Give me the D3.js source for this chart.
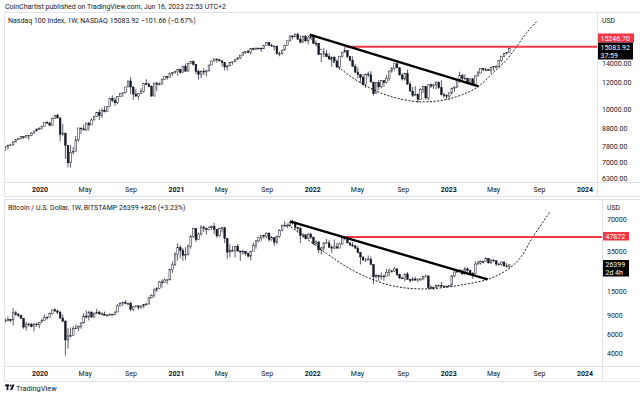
<!DOCTYPE html>
<html><head><meta charset="utf-8">
<script src="https://cdn.jsdelivr.net/npm/d3@7"></script>
<style>
body{margin:0;background:#fff}
svg{display:block}
text{font-family:Roboto,"Liberation Sans",Arial,sans-serif}
</style></head>
<body><svg id="c" width="640" height="399"></svg>
<script>
// ---------- DATA ----------
const firstWeek = "2019-09-23";   // weekly bars, Monday open time
// Nasdaq 100 weekly (close / high / low), opens = previous close
const ndxFirstOpen = 7820;
const ndxClose = [
7740,7790,7860,7880,8040,8160,8230,8330,8290,8400,8410,8530,8650,8770,8800,
8940,9170,9130,8990,9400,9620,9450,8460,8530,7860,6990,7500,7530,8150,8830,8780,8720,9120,9010,9320,9550,9810,9590,9950,9850,10200,10770,10640,10460,10900,11140,11180,11630,12110,11620,11090,10940,11120,11300,11900,11850,11670,10940,11940,11830,11860,12260,12460,12380,12760,12800,12890,
13100,12800,13370,12930,13610,13800,13530,12910,12670,12920,12870,12960,13480,13850,14040,13950,13860,13720,13300,13390,13690,13770,13990,14140,14400,14640,14790,14650,15050,14960,15100,15090,15030,15400,15650,15380,15300,15310,14570,14580,14900,15360,15850,16380,16280,16570,16020,15710,16340,15860,16170,16320,
15600,15610,14440,14520,14530,14250,14040,14200,13840,13300,14300,14690,14840,14270,13900,13350,12850,12640,12390,11840,12680,12620,12020,11130,11970,11640,12130,12000,12340,12950,13200,13590,13230,12600,12270,12740,11860,11310,10980,11040,10690,11430,11670,10800,11800,11700,11790,12020,11570,11040,10980,10940,
11180,11540,11620,12170,12570,12300,12340,11890,12280,11830,12520,12770,13180,13060,13080,13000,13250,13340,13340,13870,14300,14550,14640,15084];
const ndxHigh = [
7880,7800,7900,7950,8060,8170,8250,8340,8330,8430,8420,8580,8660,8790,8870,
8970,9180,9260,9200,9470,9630,9720,9450,9070,8300,7800,7880,7780,8360,8840,8800,9040,9140,9200,9420,9560,9840,10010,10080,10230,10210,10780,10990,10850,10930,11150,11250,11640,12120,12440,11700,11460,11130,11530,11920,12250,11990,11750,11960,12030,12000,12270,12470,12520,12780,12830,12910,
13110,13020,13420,13620,13620,13810,13880,13560,13080,13020,13180,13030,13490,13860,14050,14030,14060,13900,13760,13490,13760,13790,14020,14200,14420,14650,14800,14950,15080,15130,15140,15120,15130,15410,15700,15700,15560,15330,15300,14750,14920,15390,15860,16410,16400,16660,16760,16440,16420,16500,16220,16590,
16580,15900,15590,14600,15100,14890,14600,14280,14300,14000,14310,14710,15270,14900,14330,14290,13600,13260,12660,12660,12700,12900,12950,11700,12000,12200,12170,12120,12590,12960,13270,13610,13720,13300,12760,12760,13070,12050,11620,11700,11130,11530,11710,11700,11830,11920,11880,12080,12000,12170,11190,11070,
11190,11570,11690,12180,12880,12700,12660,12270,12300,12370,12580,12960,13190,13200,13220,13140,13270,13400,13460,13890,14340,14580,14690,15290];
const ndxLow = [
7660,7560,7620,7820,7850,8030,8170,8220,8210,8300,8150,8360,8540,8660,8720,
8740,8950,9090,8950,9050,9400,9400,8080,8350,7180,6780,6770,7380,7800,8050,8480,8690,8640,8680,9130,9300,9500,9320,9450,9800,9830,10300,10500,10250,10350,10850,10880,11150,11630,11080,10680,10860,10680,11150,11200,11780,11600,10900,11040,11320,11780,11900,12180,12200,12380,12520,12700,
12550,12720,12860,12900,13000,13570,13420,12700,12210,12340,12600,12500,12900,13500,13800,13680,13830,13350,12990,13000,13400,13500,13760,13950,14020,14400,14500,14610,14480,14860,14960,14970,14720,15030,15400,15370,15230,14850,14450,14290,14450,14900,15350,15800,16010,16260,16000,15600,15800,15700,15500,16150,
15500,15280,14420,13720,14180,14220,13920,13320,13680,13200,13040,14180,14730,14100,13860,13330,12780,12330,11930,11740,11550,12410,12000,10980,11220,11400,11520,11660,11900,12110,12800,13000,13200,12590,12130,12150,11800,11290,10870,10990,10440,10950,11170,10680,10650,11550,11480,11450,11480,10980,10800,10690,
10700,11060,11260,11550,11960,12150,12200,11830,11880,11800,11700,12500,12760,12940,12920,12980,12720,12960,13200,13260,13750,14190,14450,14620];

// Bitcoin / USD weekly (Bitstamp)
const btcFirstOpen = 10030;
const btcClose = [
8050,8150,8270,8220,9550,9200,9050,8480,7050,7500,7510,7100,7510,7390,7760,
8100,8700,8600,9390,10170,9920,9660,8540,7960,5360,5830,5880,6870,6900,7120,7690,8900,8720,9670,8720,9450,9670,9340,9300,9010,9070,9240,9160,9700,11050,11590,11910,11650,11680,10280,10950,11070,10760,11060,11390,11500,13120,13800,15500,16050,18400,18200,19150,19250,23830,26450,33000,
38200,36000,32300,33100,39250,48580,57500,45200,50970,59000,57400,55800,58200,60000,56150,49000,57200,58200,46500,34700,35700,35800,39100,35500,34700,35300,33500,31800,35400,39900,44000,47000,49300,48800,51800,45200,47300,42800,48200,55000,61500,60900,61300,64900,65500,58700,57200,49400,50100,46700,50800,47700,
41800,43100,36300,37900,42200,42200,38400,37700,38800,37800,41300,46800,46400,42200,40400,39500,37700,34300,31300,29400,29400,29900,26600,20500,21000,20800,20850,20800,22600,23300,23200,24300,21500,20000,19800,21800,19400,18900,19600,19100,19200,19600,20600,20900,16300,16200,16450,17000,17100,16800,16850,16600,
17150,20900,22700,23100,23300,21800,24300,23550,22200,22100,26900,27500,28450,28300,30300,27600,29250,28850,26900,26850,28100,25850,25573,26399];
const btcHigh = [
10050,8480,8800,8420,10540,9950,9500,9080,8500,7850,7750,7630,7680,7680,7830,
8460,9190,8750,9580,10180,10500,10250,9950,9190,8180,6900,6970,7200,7470,7300,7770,9460,10060,9950,9870,9600,10400,10000,9600,9800,9300,9460,9340,9800,11450,11900,12100,12470,11700,12050,10980,11180,11030,11060,11480,11730,13350,14090,16000,16450,18800,19440,19880,19420,24300,28400,34800,
41950,40100,37800,38500,40900,49700,58300,57500,52600,61700,61000,58400,60000,61200,64900,57000,58400,59600,59400,46700,40900,39300,39400,41300,35700,36600,35100,34600,35400,42300,44800,48100,49400,50500,52900,52800,48800,47300,49200,56500,62000,67000,63700,65700,69000,66300,59300,59100,51900,50600,51900,52000,
47500,44400,43500,38900,42500,45800,44700,40300,45400,42500,42300,47000,48200,47700,42400,42900,40700,39900,34600,31300,30600,32300,31600,26900,21800,21500,22500,21600,24300,24600,23700,25200,24500,21900,20600,21800,22700,19700,20400,20500,19900,19700,21000,21450,21000,17200,16700,17400,17400,18400,16950,16950,
17200,21300,23000,23800,24250,23400,25250,25000,23900,22600,28400,28900,29200,28800,31000,30500,30000,29800,29100,27600,28400,28450,27400,26800];
const btcLow = [
7710,7760,7960,7800,7300,8950,8660,8370,6780,6520,7130,7010,6420,7100,6860,
7740,8080,8270,8560,9150,9720,9300,8420,7850,3850,4440,5670,5860,6760,6470,6800,7650,8400,8100,8600,8630,9300,9100,9200,8980,8920,9050,9080,9100,9900,11040,11100,11400,11150,9850,9880,10650,10180,10370,10530,11200,11450,12980,13200,14850,15790,16300,18000,17600,19000,22300,26000,
29000,30400,28800,29300,32300,37400,47000,43000,45000,49300,53300,50400,55000,55500,51000,47000,48000,52800,42000,30000,31000,34800,31000,34800,28800,32700,32100,31000,29300,35700,37300,42800,43900,46200,46700,43000,43900,39600,40800,47000,54000,59500,58000,59500,62300,55600,53300,42000,46700,45500,45600,45700,
40600,39600,34000,32900,36300,41700,38000,34300,37500,37200,38200,40500,44500,41900,39200,38600,37600,33700,26700,28600,28100,29300,26600,17600,19800,18800,19300,18900,20700,20700,22400,22800,20800,19600,19600,18600,19300,18150,18500,19000,18200,18900,19300,20100,15600,16000,15500,16000,16700,16300,16400,16350,
16550,17100,20400,22300,22500,21400,21500,22800,21900,19600,21900,26600,26600,27200,28300,27100,26900,28100,25800,26400,25900,25450,24800,24800];

// Drawn annotations (date, price)
const ndxCurveDates  = ["2021-12-19","2022-03-20","2022-05-26","2022-07-27","2022-10-16","2022-12-26","2023-02-18","2023-03-22","2023-04-29","2023-06-05","2023-07-02","2023-07-28","2023-08-24"];
const ndxCurvePrices = [16422,13062,11684,10929,10528,10691,11180,11684,12777,13963,15260,16688,18031];
const ndxTrendDates  = ["2021-12-24","2023-03-22"];
const ndxTrendPrices = [16532,11684];
const ndxLevelDate = "2022-04-01", ndxLevel = 15246.70;

const btcCurveDates  = ["2021-10-27","2022-02-08","2022-04-02","2022-06-03","2022-08-05","2022-10-16","2022-12-26","2023-02-18","2023-04-15","2023-06-05","2023-07-10","2023-08-14","2023-09-28"];
const btcCurvePrices = [62100,33550,25320,19840,16880,15850,16430,17600,19430,23610,30200,47560,80410];
const btcTrendDates  = ["2021-11-01","2023-04-15"];
const btcTrendPrices = [66559,19430];
const btcLevelDate = "2022-03-20", btcLevel = 47872;

// axis labels
const timeTicks = ["2020-01-01","2020-05-01","2020-09-01","2021-01-01","2021-05-01","2021-09-01","2022-01-01","2022-05-01","2022-09-01","2023-01-01","2023-05-01","2023-09-01","2024-01-01"];
const ndxTicks = [14000,12000,10000,8800,7800,7000,6300];
const btcTicks = [70000,35000,15000,9000,6000,4000];

// ---------- DRAW ----------
const svg = d3.select("#c");
const parse = s => new Date(s + "T00:00:00Z");
const x = d3.scaleUtc().domain([parse("2020-01-01"), parse("2024-01-01")]).range([40, 585]);
const monthFmt = d3.utcFormat("%b"), yearFmt = d3.utcFormat("%Y");
const GRID = "#e0e3eb", INK = "#131722", RED = "#f23645";

svg.append("text").attr("x",5).attr("y",8.5).attr("font-size",7).attr("fill",INK)
  .text("CoinChartist published on TradingView.com, Jun 16, 2023 22:53 UTC+2");

function buildBars(close, high, low, firstOpen){
  const t0 = parse(firstWeek);
  return close.map((c,i)=>{
    const o = i===0 ? firstOpen : close[i-1];
    return {d: d3.utcDay.offset(t0, 7*i), o, c,
            h: Math.max(high[i], o, c), l: Math.min(low[i], o, c)};
  });
}

function panel(cfg){
  const g = svg.append("g");
  const y = d3.scaleLog().domain(cfg.domain).range([cfg.bottom, cfg.top]);
  const id = "clip" + cfg.name;
  svg.append("clipPath").attr("id", id).append("rect")
    .attr("x", cfg.left+1).attr("y", cfg.top).attr("width", cfg.right-cfg.left-1).attr("height", cfg.bottom-cfg.top);
  // frame
  const ln = (x1,y1,x2,y2)=> g.append("line").attr("x1",x1).attr("y1",y1).attr("x2",x2).attr("y2",y2).attr("stroke",GRID).attr("stroke-width",1);
  ln(cfg.left, cfg.top-0.5, 640, cfg.top-0.5);
  ln(cfg.left, cfg.bottom+0.5, 640, cfg.bottom+0.5);
  ln(cfg.left, cfg.axisBottom+0.5, 640, cfg.axisBottom+0.5);
  ln(cfg.left+0.5, cfg.top-0.5, cfg.left+0.5, cfg.axisBottom+0.5);
  ln(cfg.right+0.5, cfg.top-0.5, cfg.right+0.5, cfg.axisBottom+0.5);

  const plot = g.append("g").attr("clip-path", `url(#${id})`);
  // candles
  const bars = buildBars(cfg.close, cfg.high, cfg.low, cfg.firstOpen);
  const bw = 1.7;
  plot.selectAll(".w").data(bars).join("line")
    .attr("x1", d=>x(d.d)).attr("x2", d=>x(d.d))
    .attr("y1", d=>y(d.h)).attr("y2", d=>y(d.l))
    .attr("stroke", INK).attr("stroke-width", 0.7);
  plot.selectAll(".b").data(bars).join("rect")
    .attr("x", d=>x(d.d)-bw/2).attr("width", bw)
    .attr("y", d=>y(Math.max(d.o,d.c)))
    .attr("height", d=>Math.max(0.8, Math.abs(y(d.o)-y(d.c))))
    .attr("fill", d=> d.c>=d.o ? "#ffffff" : INK)
    .attr("stroke", INK).attr("stroke-width", 0.5);

  // dashed cup curve
  const curve = cfg.curveDates.map((s,i)=>({d:parse(s), p:cfg.curvePrices[i]}));
  plot.append("path").datum(curve)
    .attr("d", d3.line().x(d=>x(d.d)).y(d=>y(d.p)).curve(d3.curveCatmullRom.alpha(0.5)))
    .attr("fill","none").attr("stroke","#000").attr("stroke-width",0.9).attr("stroke-dasharray","2,1.6");
  // red resistance
  plot.append("line").attr("x1", x(parse(cfg.levelDate))).attr("x2", cfg.right)
    .attr("y1", y(cfg.level)).attr("y2", y(cfg.level))
    .attr("stroke", RED).attr("stroke-width", 2);
  // black trend line
  const tr = cfg.trendDates.map((s,i)=>({d:parse(s), p:cfg.trendPrices[i]}));
  plot.append("path").datum(tr)
    .attr("d", d3.line().x(d=>x(d.d)).y(d=>y(d.p)))
    .attr("stroke","#000").attr("stroke-width",2.4).attr("fill","none");

  // title
  g.append("text").attr("x",8).attr("y",cfg.top+10).attr("font-size",7).attr("fill",INK).text(cfg.title);

  // price axis
  const axClipId = id+"ax";
  svg.append("clipPath").attr("id", axClipId).append("rect")
    .attr("x", cfg.right+1).attr("y", cfg.top).attr("width", 640-cfg.right).attr("height", cfg.bottom-cfg.top+0.5);
  const axg = g.append("g").attr("clip-path", `url(#${axClipId})`);
  axg.append("text").attr("x", cfg.right+5).attr("y", cfg.top+9.5).attr("font-size",6.8).attr("fill",INK).text("USD");
  // labels that would sit under a value box are pushed just below it
  const labelY = d => {
    let yy = y(d)+2.5;
    cfg.boxes.forEach(b=>{ if (yy > b.y && yy-6 < b.y+b.h) yy = b.y+b.h+6.5; });
    return yy;
  };
  axg.selectAll(".tk").data(cfg.ticks).join("text")
    .attr("x", cfg.right+5).attr("y", labelY).attr("font-size",7).attr("fill",INK)
    .text(d=>cfg.fmt(d));
  // value boxes
  cfg.boxes.forEach(b=>{
    axg.append("rect").attr("x", cfg.right).attr("y", b.y).attr("width", b.w).attr("height", b.h).attr("fill", b.fill);
    b.lines.forEach((t,k)=> axg.append("text").attr("x", cfg.right+3.5).attr("y", b.y+7.2+k*8).attr("font-size",7).attr("fill","#fff").text(t));
  });

  // time axis
  g.selectAll(".tt").data(timeTicks).join("text")
    .attr("x", d=>x(parse(d))).attr("y", cfg.bottom+10).attr("text-anchor","middle")
    .attr("font-size",7).attr("fill",INK)
    .attr("font-weight", d=> d.endsWith("01-01") ? "bold" : "normal")
    .text(d=> d.endsWith("01-01") ? yearFmt(parse(d)) : monthFmt(parse(d)));
  return y;
}

const yT = panel({name:"ndx", left:4, right:597, top:13, bottom:182, axisBottom:196,
  domain:[6144,19110], close:ndxClose, high:ndxHigh, low:ndxLow, firstOpen:ndxFirstOpen,
  curveDates:ndxCurveDates, curvePrices:ndxCurvePrices, trendDates:ndxTrendDates, trendPrices:ndxTrendPrices,
  levelDate:ndxLevelDate, level:ndxLevel,
  title:"Nasdaq 100 Index, 1W, NASDAQ  15083.92  \u2212101.66 (\u22120.67%)",
  ticks:ndxTicks, fmt:d3.format(".2f"),
  boxes:[{y:33.5,h:9,w:37,fill:RED,lines:["15246.70"]},{y:42.5,h:17,w:36,fill:"#000",lines:["15083.92","37:59"]}]});

const yB = panel({name:"btc", left:4, right:602, top:200, bottom:366, axisBottom:381,
  domain:[3078,105000], close:btcClose, high:btcHigh, low:btcLow, firstOpen:btcFirstOpen,
  curveDates:btcCurveDates, curvePrices:btcCurvePrices, trendDates:btcTrendDates, trendPrices:btcTrendPrices,
  levelDate:btcLevelDate, level:btcLevel,
  title:"Bitcoin / U.S. Dollar, 1W, BITSTAMP  26399  +826 (+3.23%)",
  ticks:btcTicks, fmt:d3.format("d"),
  boxes:[{y:232,h:8.5,w:27,fill:RED,lines:["47872"]},{y:260,h:16.5,w:27,fill:"#000",lines:["26399","2d 4h"]}]});

// TradingView footer logo
const lg = svg.append("g").attr("transform","translate(5,384.5)").attr("fill",INK);
lg.append("rect").attr("x",0).attr("y",0).attr("width",4.2).attr("height",1.8);
lg.append("rect").attr("x",1.6).attr("y",0).attr("width",1.8).attr("height",5.6);
lg.append("circle").attr("cx",5.6).attr("cy",1.1).attr("r",1.0);
lg.append("path").attr("d","M7.4,0 L9.6,0 L7.2,5.6 L5.0,5.6 Z");
svg.append("text").attr("x",16).attr("y",390.5).attr("font-size",7.4).attr("fill",INK).text("TradingView");
</script>
</body></html>
